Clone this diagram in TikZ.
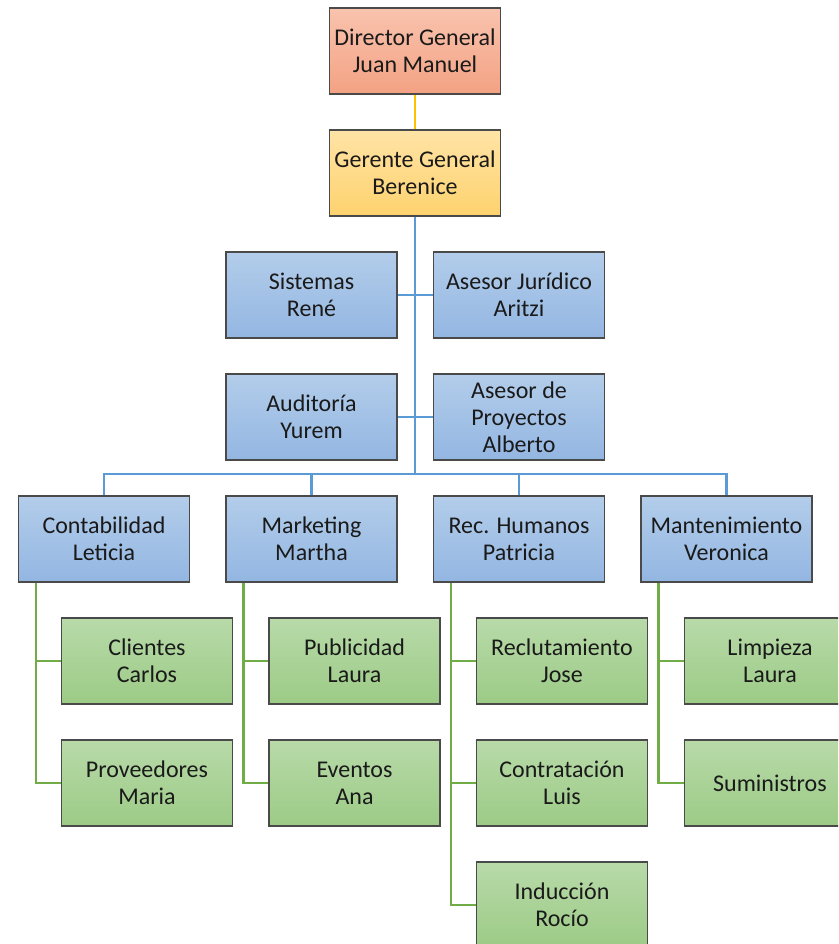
\documentclass[tikz,border=0pt]{standalone}
\usepackage{fontspec}
\setmainfont{Carlito}
\definecolor{bord}{HTML}{4A4A4A}
\definecolor{redT}{HTML}{F9C3AE}
\definecolor{redB}{HTML}{F3A283}
\definecolor{yelT}{HTML}{FFE4A6}
\definecolor{yelB}{HTML}{FED26E}
\definecolor{bluT}{HTML}{B3CDEA}
\definecolor{bluB}{HTML}{93B6E2}
\definecolor{grnT}{HTML}{B8DAA9}
\definecolor{grnB}{HTML}{9CCB86}
\definecolor{lnY}{HTML}{FFC000}
\definecolor{lnB}{HTML}{5B9BD5}
\definecolor{lnG}{HTML}{70AD47}
\definecolor{txt}{HTML}{1A1A1A}
\tikzset{
  box/.style={draw=bord, line width=1.1pt, minimum width=171pt, minimum height=86pt,
    align=center, inner sep=2pt, text=txt, font=\fontsize{24}{26.8}\selectfont},
  redbox/.style={box, top color=redT, bottom color=redB},
  yelbox/.style={box, top color=yelT, bottom color=yelB},
  blubox/.style={box, top color=bluT, bottom color=bluB},
  grnbox/.style={box, top color=grnT, bottom color=grnB},
  yline/.style={draw=lnY, line width=2.8pt},
  bline/.style={draw=lnB, line width=2.8pt},
  gline/.style={draw=lnG, line width=2.8pt},
}
\begin{document}
\begin{tikzpicture}[x=1pt,y=-1pt]
\clip (0,0) rectangle (838,944);
\fill[white] (0,0) rectangle (838,944);
% connectors first (behind boxes)
\coordinate (bus) at (415,474);
\coordinate (dirS) at (415,94);
\coordinate (gerT) at (415,130);
\coordinate (gerS) at (415,216);
\draw[yline] (dirS) -- (gerT);
\draw[bline] (gerS) -- (bus);
\coordinate (sisE) at (397,295);
\coordinate (asjW) at (433,295);
\coordinate (audE) at (397,417);
\coordinate (aspW) at (433,417);
\draw[bline] (sisE) -- (asjW);
\draw[bline] (audE) -- (aspW);
\coordinate (contN) at (104,496);
\coordinate (markN) at (311.5,496);
\coordinate (rrhhN) at (519,496);
\coordinate (mantN) at (726.5,496);
\draw[bline] (contN) |- (bus) -| (mantN);
\draw[bline] (bus) -| (markN);
\draw[bline] (bus) -| (rrhhN);
% boxes
\node[redbox] (dir) at (415,51) {Director General\\Juan Manuel};
\node[yelbox] (ger) at (415,173) {Gerente General\\Berenice};
\node[blubox] (sis) at (311.5,295) {Sistemas\\René};
\node[blubox] (asj) at (519,295) {Asesor Jurídico\\Aritzi};
\node[blubox] (aud) at (311.5,417) {Auditoría\\Yurem};
\node[blubox] (asp) at (519,417) {Asesor de\\Proyectos\\Alberto};
\node[blubox] (cont) at (104,539) {Contabilidad\\Leticia};
\node[blubox] (mark) at (311.5,539) {Marketing\\Martha};
\node[blubox] (rrhh) at (519,539) {Rec. Humanos\\Patricia};
\node[blubox] (mant) at (726.5,539) {Mantenimiento\\Veronica};
\node[grnbox] (cli) at (147,661) {Clientes\\Carlos};
\node[grnbox] (pro) at (147,783) {Proveedores\\Maria};
\node[grnbox] (pub) at (354.5,661) {Publicidad\\Laura};
\node[grnbox] (eve) at (354.5,783) {Eventos\\Ana};
\node[grnbox] (rec) at (562,661) {Reclutamiento\\Jose};
\node[grnbox] (con) at (562,783) {Contratación\\Luis};
\node[grnbox] (ind) at (562,905) {Inducción\\Rocío};
\node[grnbox] (lim) at (770,661) {Limpieza\\Laura};
\node[grnbox] (sum) at (770,783) {Suministros};
% green connectors
\coordinate (g1) at ([xshift=18pt]cont.south west);
\coordinate (g2) at ([xshift=18pt]mark.south west);
\coordinate (g3) at ([xshift=18pt]rrhh.south west);
\coordinate (g4) at ([xshift=18pt]mant.south west);
\draw[gline] (g1) |- (cli.west);
\draw[gline] (g1) |- (pro.west);
\draw[gline] (g2) |- (pub.west);
\draw[gline] (g2) |- (eve.west);
\draw[gline] (g3) |- (rec.west);
\draw[gline] (g3) |- (con.west);
\draw[gline] (g3) |- (ind.west);
\draw[gline] (g4) |- (lim.west);
\draw[gline] (g4) |- (sum.west);
\end{tikzpicture}
\end{document}
